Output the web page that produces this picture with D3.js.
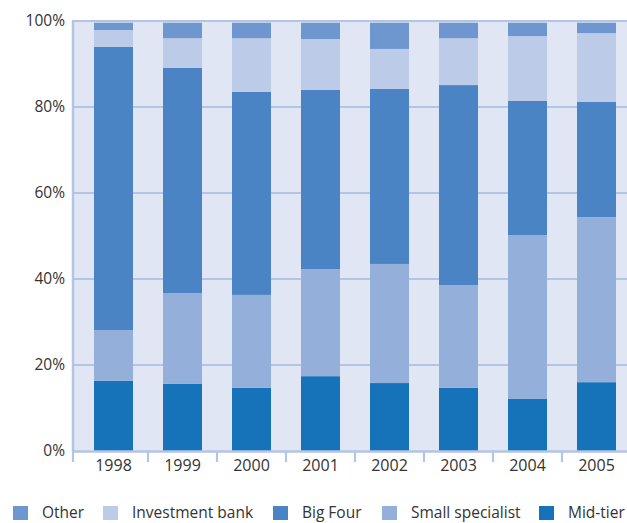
<!DOCTYPE html>
<html>
<head>
<meta charset="utf-8">
<script src="https://cdn.jsdelivr.net/npm/d3@7"></script>
<style>
  html, body { margin: 0; padding: 0; background: #ffffff; }
  svg { display: block; }
  text { font-family: "Open Sans", "Noto Sans", sans-serif; fill: #333333; }
</style>
</head>
<body>
<svg id="chart" width="627" height="523"></svg>
<script>
// Years on the category axis
const years = ["1998", "1999", "2000", "2001", "2002", "2003", "2004", "2005"];

// Share of each adviser type per year (percent), stacked bottom to top
const midTier         = [16.3, 15.6, 14.7, 17.4, 15.8, 14.7, 12.1, 16.0];
const smallSpecialist = [11.8, 21.1, 21.6, 24.9, 27.7, 23.9, 38.1, 38.4];
const bigFour         = [65.9, 52.4, 47.2, 41.7, 40.7, 46.5, 31.2, 26.8];
const investmentBank  = [ 3.9,  6.9, 12.5, 11.8,  9.3, 10.9, 15.1, 16.0];
const other           = [ 2.1,  4.0,  4.0,  4.2,  6.5,  4.0,  3.5,  2.8];

const yTicks = [0, 20, 40, 60, 80, 100];
const legendOrder = ["Other", "Investment bank", "Big Four", "Small specialist", "Mid-tier"];

const seriesNames = ["Mid-tier", "Small specialist", "Big Four", "Investment bank", "Other"];
const seriesValues = [midTier, smallSpecialist, bigFour, investmentBank, other];
const colors = {
  "Mid-tier": "#1673b9",
  "Small specialist": "#94b0da",
  "Big Four": "#4a84c4",
  "Investment bank": "#bccbe7",
  "Other": "#6f97cf"
};

const rows = years.map((yr, i) => {
  const r = { year: yr };
  seriesNames.forEach((s, k) => { r[s] = seriesValues[k][i]; });
  return r;
});

const svg = d3.select("#chart");
const plotLeft = 73, plotRight = 627, plotTop = 21, plotBottom = 451;

const x = d3.scaleBand()
  .domain(years)
  .range([79, 79 + 69 * years.length])
  .paddingInner(0.435)
  .paddingOuter(0.2175);

const y = d3.scaleLinear().domain([0, 100]).range([plotBottom, plotTop]);

// Plot background
svg.append("rect")
  .attr("x", plotLeft).attr("y", plotTop)
  .attr("width", plotRight - plotLeft).attr("height", plotBottom - plotTop)
  .attr("fill", "#e0e6f4");

// Horizontal gridlines
svg.append("g").selectAll("line")
  .data(yTicks.filter(d => d > 0))
  .join("line")
  .attr("x1", plotLeft).attr("x2", plotRight)
  .attr("y1", d => y(d)).attr("y2", d => y(d))
  .attr("stroke", "#b3c5e5").attr("stroke-width", 2.2);

// Stacked bars
const stack = d3.stack().keys(seriesNames);
const layers = stack(rows);

svg.append("g").selectAll("g")
  .data(layers)
  .join("g")
  .attr("fill", d => colors[d.key])
  .selectAll("rect")
  .data(d => d)
  .join("rect")
  .attr("x", d => x(d.data.year))
  .attr("width", x.bandwidth())
  .attr("y", d => y(Math.min(d[1], 99.6)))
  .attr("height", d => y(d[0]) - y(Math.min(d[1], 99.6)));

// Axis lines
svg.append("line")
  .attr("x1", plotLeft).attr("x2", plotLeft)
  .attr("y1", plotTop - 1).attr("y2", plotBottom + 1)
  .attr("stroke", "#b3c5e5").attr("stroke-width", 2.5);
svg.append("line")
  .attr("x1", plotLeft).attr("x2", plotRight)
  .attr("y1", plotBottom + 0.5).attr("y2", plotBottom + 0.5)
  .attr("stroke", "#b3c5e5").attr("stroke-width", 2.5);

// Category tick marks at band boundaries
const step = x.step();
const tickXs = [plotLeft].concat(years.slice(1).map(yr => x(yr) - (step - x.bandwidth()) / 2));
svg.append("g").selectAll("line")
  .data(tickXs)
  .join("line")
  .attr("x1", d => d).attr("x2", d => d)
  .attr("y1", plotBottom).attr("y2", plotBottom + 11)
  .attr("stroke", "#b3c5e5").attr("stroke-width", 2.2);

// Year labels
svg.append("g").selectAll("text")
  .data(years)
  .join("text")
  .attr("x", d => x(d) + x.bandwidth() / 2)
  .attr("y", 471)
  .attr("text-anchor", "middle")
  .attr("font-size", 16)
  .text(d => d);

// Percent labels
svg.append("g").selectAll("text")
  .data(yTicks)
  .join("text")
  .attr("x", 65)
  .attr("y", d => y(d) + 5)
  .attr("text-anchor", "end")
  .attr("font-size", 15.5)
  .text(d => d + "%");

// Legend: one swatch + label per series, laid out in a single row
const legendX = [13, 103, 273, 382, 539];
const legend = svg.append("g");
legendOrder.forEach((name, i) => {
  legend.append("rect")
    .attr("x", legendX[i]).attr("y", 506)
    .attr("width", 15).attr("height", 14)
    .attr("fill", colors[name]);
  legend.append("text")
    .attr("x", legendX[i] + 29).attr("y", 518)
    .attr("font-size", 15.5)
    .text(name);
});
</script>
</body>
</html>
